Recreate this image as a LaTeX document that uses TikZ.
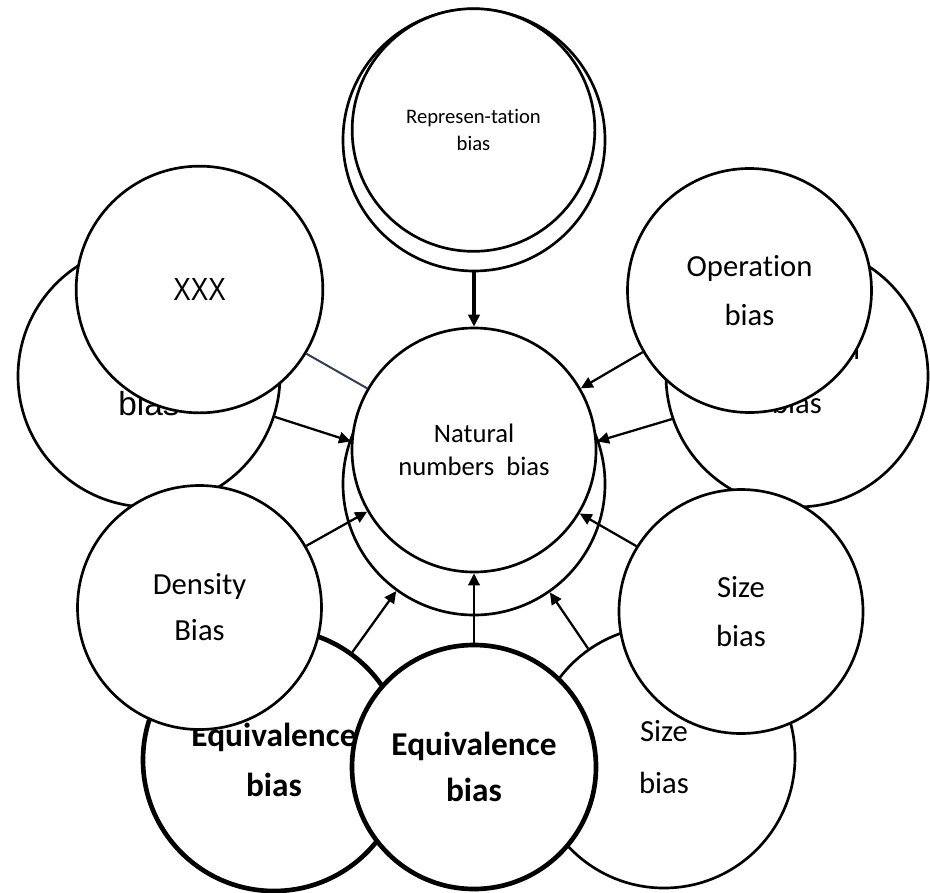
\documentclass[tikz,border=0pt]{standalone}
\usepackage{fontspec}
\setmainfont{Carlito}[Ligatures={NoCommon}]
\newfontfamily\arialf{Liberation Sans}
\newfontfamily\arialn{Liberation Sans}[FakeStretch=0.82]
\usetikzlibrary{arrows.meta}
\begin{document}
\begin{tikzpicture}[x=0.75pt,y=-0.75pt,
  bub/.style={circle, draw, line width=2pt, fill=white, inner sep=0pt, align=center},
  smallb/.style={bub, minimum size=183pt},
  bigb/.style={bub, minimum size=196.5pt},
  thickb/.style={line width=3.5pt},
  arr/.style={line width=1.7pt, -{Triangle[length=9pt,width=8.5pt]}},
  f23/.style={font=\fontsize{23}{37}\selectfont}
]
\useasboundingbox (0,0) rectangle (930,892);
% back layer
\node[bigb, font=\arialf\fontsize{25}{35}\selectfont] (bigL) at (149,376) {\strut\\bias};
\node[bigb, font=\fontsize{23}{40}\selectfont] (bigR) at (797,376) {Operation\\bias};
\node[smallb, minimum size=185pt, font=\arialn\fontsize{24}{24}\selectfont] (xxx) at (199.5,289.5) {XXX};
\node[smallb, f23] (oper) at (749.5,290.5) {Operation\\bias};
\node[bigb] (repo) at (474,140) {};
\node[smallb, minimum size=182pt, font=\fontsize{15.5}{20}\selectfont] (repi) at (473.5,130) {Represen-tation\\bias};
\node[bigb] (cout) at (474,484) {};
\node[smallb, font=\fontsize{20}{25}\selectfont] (cin) at (474,450) {Natural\\numbers\ \ bias};
\node[bigb, thickb, font=\bfseries\fontsize{25}{37.5}\selectfont] (eql) at (274,760) {Equivalence\\bias};
\node[bigb, font=\fontsize{23}{39}\selectfont] (sizeb) at (664,757) {Size\\bias};
\node[smallb, font=\fontsize{23}{34.5}\selectfont] (dens) at (199.5,607.5) {Density\\Bias};
\node[smallb, f23] (sizes) at (741,611.5) {Size\\bias};
\node[smallb, thickb, font=\bfseries\fontsize{25}{35}\selectfont] (eqc) at (474,767) {Equivalence\\bias};
% connectors
\draw[arr, line width=2.5pt] (repo.south) -- (cin.north);
\draw[line width=1.5pt, draw={rgb,255:red,51;green,63;blue,80}] (xxx.-31) -- (cin.150);
\draw[arr] (bigL.-18) -- (cin.176);
\draw[arr] (dens.30) -- (cin.210);
\draw[arr] (eql.54) -- (cout.234);
\draw[arr, line width=2pt] (eqc.north) -- (cin.south);
\draw[arr] (sizeb.125) -- (cout.-55);
\draw[arr] (sizes.148) -- (cin.-31);
\draw[arr] (bigR.-161) -- (cin.4);
\draw[arr] (oper.210) -- (cin.30);
\end{tikzpicture}
\end{document}
